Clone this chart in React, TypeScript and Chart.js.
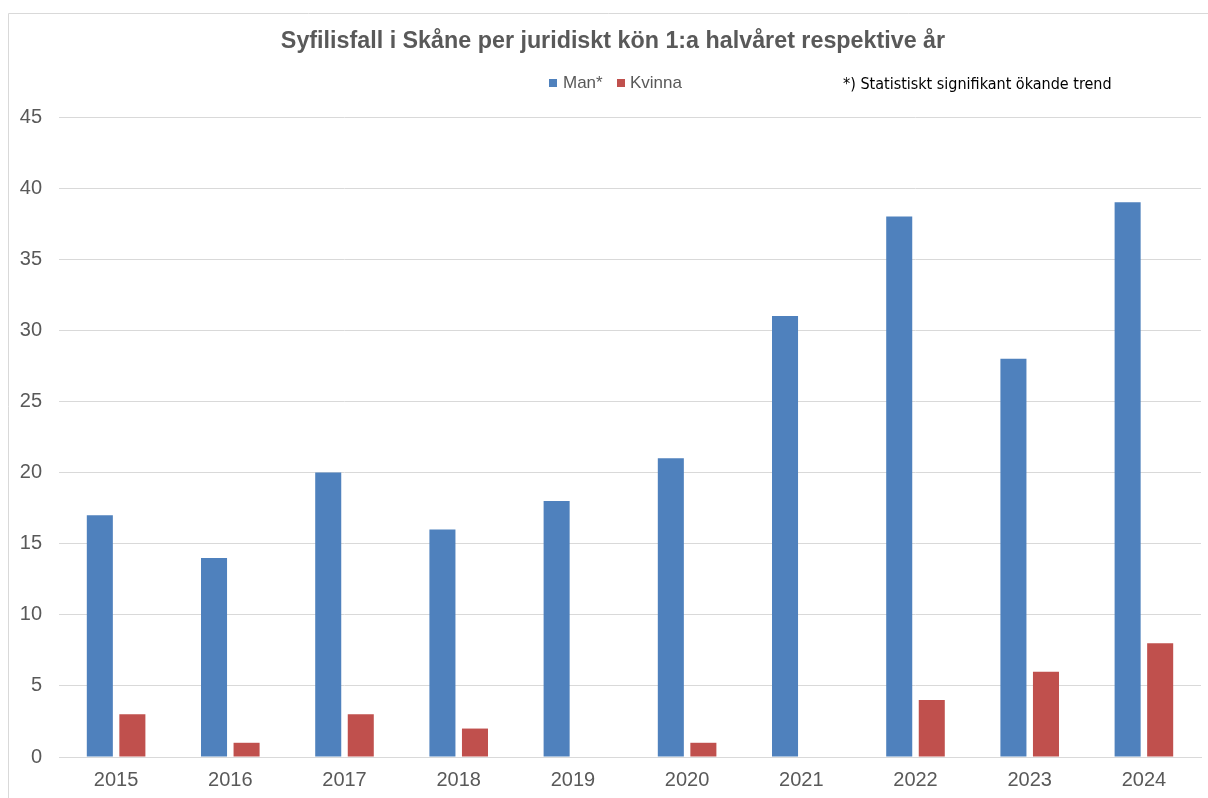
import React, { useEffect, useRef } from "react";
import { Chart, registerables } from "chart.js";

Chart.register(...registerables);

const years = ["2015", "2016", "2017", "2018", "2019", "2020", "2021", "2022", "2023", "2024"];
const manValues = [17, 14, 20, 16, 18, 21, 31, 38, 28, 39];
const kvinnaValues = [3, 1, 3, 2, 0, 1, 0, 4, 6, 8];
const seriesLabels = ["Man*", "Kvinna"];
const seriesColors = ["#4f81bd", "#c0504d"];
const titleText = "Syfilisfall i Skåne per juridiskt kön 1:a halvåret respektive år";
const noteText = "*) Statistiskt signifikant ökande trend";

const FONT = "'Liberation Sans', Arial, sans-serif";

const frameLegendNote = {
  id: "frameLegendNote",
  afterDraw(chart: any) {
    const ctx = chart.ctx;
    ctx.save();
    // frame
    ctx.strokeStyle = "#d9d9d9";
    ctx.lineWidth = 1;
    ctx.beginPath();
    ctx.moveTo(8.5, 810);
    ctx.lineTo(8.5, 13.5);
    ctx.lineTo(1220, 13.5);
    ctx.stroke();
    // title
    ctx.fillStyle = "#595959";
    ctx.font = `bold 23.3px ${FONT}`;
    ctx.textAlign = "center";
    ctx.textBaseline = "middle";
    ctx.fillText(titleText, 613, 42);
    // legend
    const legendY = 83;
    const items = [
      { x: 549, textX: 563 },
      { x: 617, textX: 630 },
    ];
    ctx.font = `17px ${FONT}`;
    ctx.textAlign = "left";
    chart.data.datasets.forEach((ds: any, i: number) => {
      const it = items[i];
      ctx.fillStyle = ds.backgroundColor;
      ctx.fillRect(it.x, legendY - 4, 8, 8);
      ctx.fillStyle = "#595959";
      ctx.fillText(ds.label, it.textX, legendY);
    });
    // note
    ctx.fillStyle = "#000000";
    ctx.font = '16px "Liberation Sans Narrow", "DejaVu Sans Condensed", sans-serif';
    ctx.fillText(noteText, 843, 85);
    ctx.restore();
  },
};

export default function App() {
  const ref = useRef<HTMLCanvasElement>(null);
  useEffect(() => {
    document.body.style.margin = "0";
    const chart = new Chart(ref.current!, {
      type: "bar",
      data: {
        labels: years,
        datasets: [
          { label: seriesLabels[0], data: manValues, backgroundColor: seriesColors[0], categoryPercentage: 0.57, barPercentage: 0.8 },
          { label: seriesLabels[1], data: kvinnaValues, backgroundColor: seriesColors[1], categoryPercentage: 0.57, barPercentage: 0.8 },
        ],
      },
      options: {
        animation: false,
        responsive: false,
        layout: { padding: { top: 117, right: 7, bottom: 0, left: 0 } },
        plugins: {
          title: { display: false },
          legend: { display: false },
          tooltip: { enabled: false },
        },
        scales: {
          x: {
            grid: { display: false },
            border: { color: "#d9d9d9" },
            ticks: {
              color: "#595959",
              font: { family: FONT, size: 20 },
              padding: 3,
            },
            afterFit: (s: any) => { s.height = 41; },
          },
          y: {
            min: 0,
            max: 45,
            ticks: {
              stepSize: 5,
              color: "#595959",
              font: { family: FONT, size: 20 },
              padding: 17,
            },
            grid: { color: "#d9d9d9", drawTicks: false },
            border: { display: false },
            afterFit: (s: any) => { s.width = 59; },
          },
        },
      },
      plugins: [frameLegendNote],
    });
    return () => chart.destroy();
  }, []);
  return <canvas ref={ref} width={1208} height={798} style={{ display: "block" }} />;
}
